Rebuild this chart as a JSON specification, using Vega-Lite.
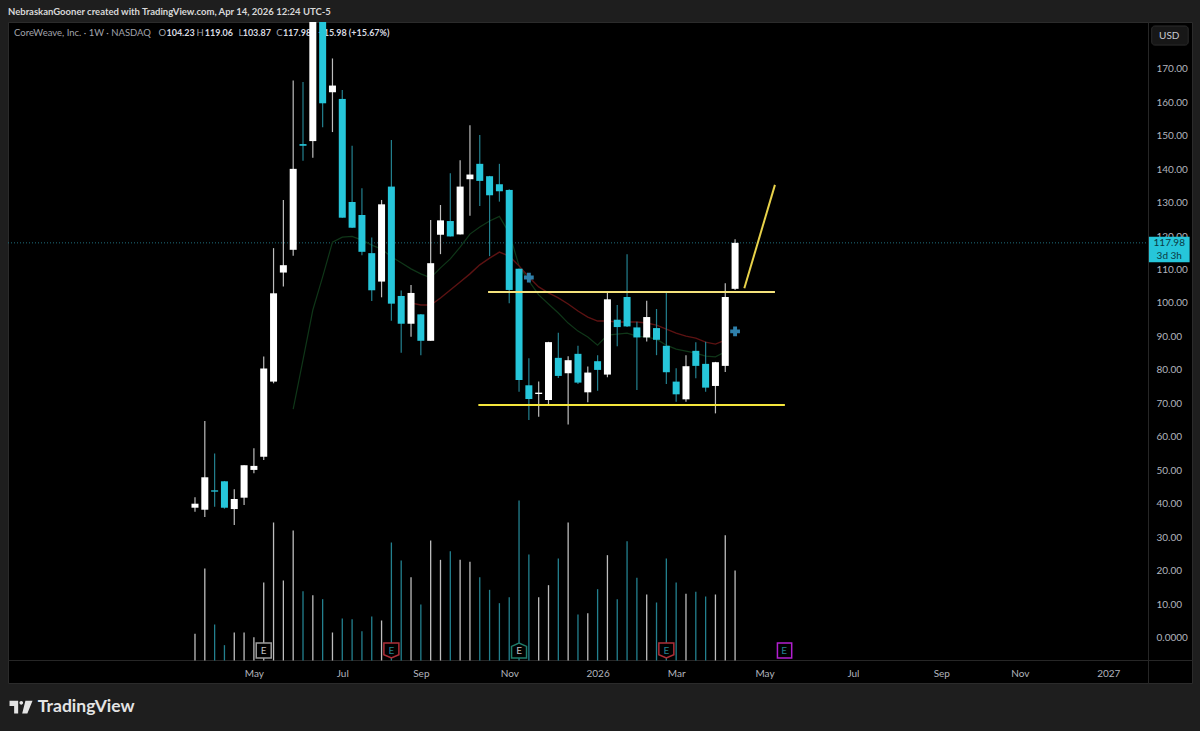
{"$schema":"https://vega.github.io/schema/vega-lite/v6.json","autosize":"none","width":1184,"height":661,"padding":{"left":8,"top":22,"right":8,"bottom":48},"background":"#1e1e1e","config":{"view":{"fill":"#000000","stroke":"#2b2b2b"},"text":{"font":"Lato"},"axis":{"labelFont":"Lato"}},"datasets":{"weeks":[
{"date":"2025-03-24","open":38.8,"high":41.9,"low":37.6,"close":40.0,"dir":"up","vol":40},
{"date":"2025-03-31","open":38.2,"high":64.7,"low":36.0,"close":47.9,"dir":"up","vol":138},
{"date":"2025-04-07","open":44.0,"high":55.0,"low":39.1,"close":43.6,"dir":"down","vol":54},
{"date":"2025-04-14","open":46.7,"high":46.8,"low":38.5,"close":38.8,"dir":"down","vol":23},
{"date":"2025-04-21","open":38.4,"high":44.3,"low":33.6,"close":41.4,"dir":"up","vol":42},
{"date":"2025-04-28","open":41.8,"high":51.5,"low":39.6,"close":51.5,"dir":"up","vol":42},
{"date":"2025-05-05","open":50.1,"high":56.6,"low":49.1,"close":51.3,"dir":"up","vol":35},
{"date":"2025-05-12","open":54.0,"high":84.0,"low":53.1,"close":80.4,"dir":"up","vol":117},
{"date":"2025-05-19","open":76.5,"high":116.4,"low":76.0,"close":102.9,"dir":"up","vol":207},
{"date":"2025-05-26","open":109.1,"high":130.8,"low":104.9,"close":111.3,"dir":"up","vol":120},
{"date":"2025-06-02","open":115.9,"high":166.5,"low":114.1,"close":140.1,"dir":"up","vol":195,"fast":68.3},
{"date":"2025-06-09","open":147.5,"high":166.1,"low":142.5,"close":147.0,"dir":"down","vol":104,"fast":83.0},
{"date":"2025-06-16","open":148.4,"high":187,"low":143.4,"close":185,"dir":"up","vol":98,"fast":97.9},
{"date":"2025-06-23","open":185,"high":187,"low":152.5,"close":159.7,"dir":"down","vol":92,"fast":107.8},
{"date":"2025-06-30","open":163,"high":173.1,"low":151.1,"close":165,"dir":"up","vol":42,"fast":118.2},
{"date":"2025-07-07","open":161,"high":163.7,"low":125.5,"close":125.5,"dir":"down","vol":63,"fast":119.7},
{"date":"2025-07-14","open":130.2,"high":147,"low":122.4,"close":122.5,"dir":"down","vol":62,"fast":119.9},
{"date":"2025-07-21","open":126.3,"high":134.3,"low":114.3,"close":115.3,"dir":"down","vol":44,"fast":118.8},
{"date":"2025-07-28","open":114.9,"high":119.6,"low":100.6,"close":103.8,"dir":"down","vol":66,"fast":117.3},
{"date":"2025-08-04","open":106.4,"high":130.8,"low":101.7,"close":129.5,"dir":"up","vol":60,"fast":116.1},
{"date":"2025-08-11","open":134.8,"high":148.7,"low":94.7,"close":99.8,"dir":"down","vol":177,"fast":113.8},
{"date":"2025-08-18","open":102.1,"high":103.7,"low":85.1,"close":93.8,"dir":"down","vol":150,"fast":112.0},
{"date":"2025-08-25","open":93.8,"high":105.4,"low":89.9,"close":103,"dir":"up","vol":125,"fast":110.2,"slow":100.0},
{"date":"2025-09-01","open":96.6,"high":96.7,"low":84.4,"close":88.7,"dir":"down","vol":84,"fast":108.7,"slow":99.4},
{"date":"2025-09-08","open":88.7,"high":124.8,"low":88.7,"close":111.9,"dir":"up","vol":180,"fast":107.5,"slow":99.4},
{"date":"2025-09-15","open":120.4,"high":129.3,"low":114.6,"close":124.7,"dir":"up","vol":151,"fast":110.5,"slow":101.5},
{"date":"2025-09-22","open":124.5,"high":138.8,"low":119.9,"close":119.9,"dir":"down","vol":164,"fast":113.2,"slow":103.9},
{"date":"2025-09-29","open":120.5,"high":142.7,"low":120.5,"close":134.8,"dir":"up","vol":151,"fast":116.7,"slow":106.3},
{"date":"2025-10-06","open":137,"high":153.1,"low":126.1,"close":138.4,"dir":"up","vol":148,"fast":120.6,"slow":108.7},
{"date":"2025-10-13","open":141.6,"high":150.2,"low":129.0,"close":136.5,"dir":"down","vol":125,"fast":122.7,"slow":111.4},
{"date":"2025-10-20","open":137.9,"high":138,"low":114.0,"close":132.2,"dir":"down","vol":106,"fast":124.5,"slow":113.4},
{"date":"2025-10-27","open":135.5,"high":141.6,"low":130.3,"close":133.4,"dir":"down","vol":86,"fast":125.9,"slow":115.2},
{"date":"2025-11-03","open":133.8,"high":134,"low":99.9,"close":103.9,"dir":"down","vol":95,"fast":120.9,"slow":114.0},
{"date":"2025-11-10","open":110.2,"high":110.3,"low":73.5,"close":77.0,"dir":"down","vol":240,"fast":111.1,"slow":111.1},
{"date":"2025-11-17","open":75.4,"high":83.5,"low":65.0,"close":71.3,"dir":"down","vol":159,"fast":106.6,"slow":107.8},
{"date":"2025-11-24","open":72.8,"high":76.5,"low":66.0,"close":73.2,"dir":"up","vol":95,"fast":102.4,"slow":104.8},
{"date":"2025-12-01","open":71,"high":88.4,"low":69.5,"close":88.3,"dir":"up","vol":113,"fast":99.7,"slow":103.0},
{"date":"2025-12-08","open":83.6,"high":91.1,"low":77.6,"close":78.2,"dir":"down","vol":153,"fast":97.0,"slow":101.5},
{"date":"2025-12-15","open":79,"high":84.1,"low":63.7,"close":82.9,"dir":"up","vol":207,"fast":94.0,"slow":99.7},
{"date":"2025-12-22","open":84.8,"high":87.2,"low":75.8,"close":76.2,"dir":"down","vol":69,"fast":91.6,"slow":97.6},
{"date":"2025-12-29","open":73.3,"high":81,"low":70.3,"close":79.2,"dir":"up","vol":71,"fast":89.8,"slow":95.8},
{"date":"2026-01-05","open":82.6,"high":84.4,"low":73.8,"close":80,"dir":"down","vol":107,"fast":87.4,"slow":94.6},
{"date":"2026-01-12","open":78.6,"high":103.1,"low":77.8,"close":101.1,"dir":"up","vol":158,"fast":90.4,"slow":94.6},
{"date":"2026-01-19","open":95,"high":99.4,"low":87.1,"close":92.8,"dir":"down","vol":92,"fast":90.7,"slow":94.3},
{"date":"2026-01-26","open":101.8,"high":114.6,"low":92.8,"close":93,"dir":"down","vol":179,"fast":91.0,"slow":94.3},
{"date":"2026-02-02","open":92.7,"high":94.4,"low":74.0,"close":89.7,"dir":"down","vol":124,"fast":90.1,"slow":94.3},
{"date":"2026-02-09","open":89.7,"high":100.7,"low":88.5,"close":95.8,"dir":"up","vol":99,"fast":89.8,"slow":94.0},
{"date":"2026-02-16","open":92.5,"high":98.2,"low":84.4,"close":89,"dir":"down","vol":87,"fast":89.2,"slow":93.4},
{"date":"2026-02-23","open":87.2,"high":103.3,"low":75.8,"close":79.3,"dir":"down","vol":153,"fast":87.4,"slow":92.2},
{"date":"2026-03-02","open":76.5,"high":80.5,"low":70.5,"close":72.7,"dir":"down","vol":117,"fast":86.2,"slow":91.0},
{"date":"2026-03-09","open":71.2,"high":84.4,"low":70.5,"close":81.1,"dir":"up","vol":100,"fast":85.6,"slow":90.1},
{"date":"2026-03-16","open":85.7,"high":88.3,"low":77.5,"close":81.2,"dir":"down","vol":103,"fast":85.0,"slow":89.5},
{"date":"2026-03-23","open":81.8,"high":88.4,"low":73.5,"close":74.7,"dir":"down","vol":96,"fast":84.1,"slow":88.3},
{"date":"2026-03-30","open":75.2,"high":82.4,"low":67.0,"close":82.3,"dir":"up","vol":99,"fast":83.9,"slow":87.7},
{"date":"2026-04-06","open":81.2,"high":105.9,"low":79.4,"close":101.8,"dir":"up","vol":188,"fast":85.4,"slow":88.9},
{"date":"2026-04-13","open":104.23,"high":119.06,"low":103.87,"close":117.98,"dir":"up","vol":135}
],
"earnings":[
{"date":"2025-05-12","price":-3.9,"kind":"prior"},
{"date":"2025-08-11","price":-3.9,"kind":"miss"},
{"date":"2025-11-10","price":-3.9,"kind":"beat"},
{"date":"2026-02-23","price":-3.9,"kind":"miss"},
{"date":"2026-05-18","price":-3.9,"kind":"next"}
]},
"data":{"name":"weeks"},
"encoding":{"x":{"field":"date","type":"temporal","title":null,"scale":{"type":"utc","domain":["2024-11-10T17:00:00Z","2027-03-04T17:00:00Z"],"nice":false,"padding":0},"axis":{"orient":"bottom","offset":-23,"grid":false,"ticks":false,"tickSize":0,"domain":true,"domainColor":"#262626","labelColor":"#b2b5be","labelFontSize":10,"labelPadding":8,"labelOverlap":false,"labelFlush":false,"labelBound":false,"labelExpr":"utcmonth(datum.value)==0 ? ''+utcyear(datum.value) : utcFormat(datum.value,'%b')","values":["2025-05-05T00:00:00Z","2025-07-07T00:00:00Z","2025-09-01T00:00:00Z","2025-11-03T00:00:00Z","2026-01-05T00:00:00Z","2026-03-02T00:00:00Z","2026-05-04T00:00:00Z","2026-07-06T00:00:00Z","2026-09-07T00:00:00Z","2026-11-02T00:00:00Z","2027-01-04T00:00:00Z"]}}},
"resolve":{"scale":{"y":"independent"}},
"layer":[
{"layer":[{"mark":{"type":"rule","strokeWidth":1.3},"encoding":{"y":{"field":"vol","type":"quantitative","title":null,"axis":null,"scale":{"domain":[-33.75,957.75],"nice":false,"zero":false}},"y2":{"datum":0},"color":{"field":"dir","type":"nominal","legend":null,"scale":{"domain":["up","down"],"range":["#bdbdbd","#23808f"]}}}}]},
{"layer":[
{"data":{"values":[{"level":117.98,"date":"2024-11-10T17:00:00Z","date2":"2027-02-01T00:00:00Z"}]},"mark":{"type":"rule","color":"#1f6f7d","strokeWidth":1,"strokeDash":[1,2]},"encoding":{"x2":{"field":"date2"},"y":{"field":"level","type":"quantitative","title":null,"scale":{"domain":[-13.6,184],"nice":false,"zero":false},"axis":{"orient":"right","offset":-44,"grid":false,"ticks":false,"tickSize":0,"domain":true,"domainColor":"#262626","labelColor":"#b2b5be","labelFontSize":10,"labelPadding":8,"labelAlign":"left","labelOverlap":false,"labelFlush":false,"labelBound":false,"values":[0,10,20,30,40,50,60,70,80,90,100,110,120,130,140,150,160,170],"labelExpr":"datum.value==0 ? '0.0000' : format(datum.value,'.2f')"}}}}
]},
{"layer":[
{"data":{"values":[{"t":"CoreWeave, Inc. · 1W · NASDAQ","date":"2024-11-15T00:00:00Z","price":180.7},{"t":"O","date":"2025-02-26T00:00:00Z","price":180.7},{"t":"H","date":"2025-03-25T00:00:00Z","price":180.7},{"t":"L","date":"2025-04-24T00:00:00Z","price":180.7},{"t":"C","date":"2025-05-21T00:00:00Z","price":180.7}]},"mark":{"type":"text","align":"left","baseline":"middle","fontSize":9.5,"color":"#a0a3ab"},"encoding":{"y":{"field":"price","type":"quantitative","axis":null,"scale":{"domain":[-13.6,184],"nice":false,"zero":false}},"text":{"field":"t"}}},
{"data":{"values":[{"t":"104.23","date":"2025-03-03T16:00:00Z","price":180.7},{"t":"119.06","date":"2025-03-31T00:00:00Z","price":180.7},{"t":"103.87","date":"2025-04-27T00:00:00Z","price":180.7},{"t":"117.98","date":"2025-05-25T16:00:00Z","price":180.7},{"t":"+15.98 (+15.67%)","date":"2025-06-20T00:00:00Z","price":180.7}]},"mark":{"type":"text","align":"left","baseline":"middle","fontSize":9,"fontWeight":"bold","color":"#d8dae0"},"encoding":{"y":{"field":"price","type":"quantitative","axis":null},"text":{"field":"t"}}},
{"transform":[{"filter":"isValid(datum.fast)"}],"mark":{"type":"line","color":"#0f3618","strokeWidth":1.2,"clip":true},"encoding":{"y":{"field":"fast","type":"quantitative","axis":null}}},
{"transform":[{"filter":"isValid(datum.slow)"}],"mark":{"type":"line","color":"#5c1212","strokeWidth":1.4,"clip":true},"encoding":{"y":{"field":"slow","type":"quantitative","axis":null}}},
{"mark":{"type":"rule","strokeWidth":1.2,"clip":true},"encoding":{"y":{"field":"low","type":"quantitative","axis":null},"y2":{"field":"high"},"color":{"field":"dir","type":"nominal","legend":null}}},
{"mark":{"type":"bar","width":7,"clip":true,"orient":"vertical"},"encoding":{"y":{"field":"open","type":"quantitative","axis":null},"y2":{"field":"close"},"fill":{"field":"dir","type":"nominal","legend":null,"scale":{"domain":["up","down"],"range":["#ffffff","#26c6da"]}}}},
{"data":{"values":[{"date":"2025-10-12T00:00:00Z","date2":"2026-05-18T12:00:00Z","level":69.5}]},"mark":{"type":"rule","color":"#f5e63c","strokeWidth":1.8},"encoding":{"x2":{"field":"date2"},"y":{"field":"level","type":"quantitative","axis":null}}},
{"data":{"values":[{"date":"2025-10-18T22:00:00Z","date2":"2026-05-11T10:00:00Z","level":103.3}]},"mark":{"type":"rule","color":"#f4e27c","strokeWidth":2},"encoding":{"x2":{"field":"date2"},"y":{"field":"level","type":"quantitative","axis":null}}},
{"data":{"values":[{"date":"2026-04-19T14:00:00Z","price":104.4},{"date":"2026-05-11T10:00:00Z","price":135.3}]},"mark":{"type":"line","color":"#e8d24a","strokeWidth":2},"encoding":{"y":{"field":"price","type":"quantitative","axis":null}}},
{"data":{"values":[{"date":"2025-11-17","price":107.6},{"date":"2026-04-13","price":91.5}]},"mark":{"type":"point","shape":"cross","filled":true,"size":95,"color":"#2f80ab","opacity":1},"encoding":{"y":{"field":"price","type":"quantitative","axis":null}}},
{"data":{"name":"earnings"},"mark":{"type":"point","filled":false,"fill":"#000000","fillOpacity":1,"size":225,"strokeWidth":1.5,"opacity":1},"encoding":{"y":{"field":"price","type":"quantitative","axis":null},"stroke":{"field":"kind","type":"nominal","legend":null,"scale":{"domain":["prior","miss","beat","next"],"range":["#9c9c9c","#ad2f38","#1f7d6b","#b21fd0"]}},"shape":{"field":"kind","type":"nominal","legend":null,"scale":{"domain":["prior","miss","beat","next"],"range":["M-1,-1L1,-1L1,1L-1,1Z","M-1,-1L1,-1L1,0.55L0,1L-1,0.55Z","M-1,1L1,1L1,-0.55L0,-1L-1,-0.55Z","M-0.9,-1L1,-1L1,1L-0.9,1Z"]}}}},
{"data":{"name":"earnings"},"transform":[{"calculate":"'E'","as":"t"}],"mark":{"type":"text","align":"center","baseline":"middle","fontSize":10},"encoding":{"y":{"field":"price","type":"quantitative","axis":null},"text":{"field":"t"},"color":{"field":"kind","type":"nominal","legend":null,"scale":{"domain":["prior","miss","beat","next"],"range":["#b5b5b5","#c2363f","#24917c","#c126e0"]}}}},
{"data":{"values":[{"date":"2027-02-02T00:00:00Z","date2":"2027-03-03T00:00:00Z","top":119.8,"bottom":112.2}]},"mark":{"type":"bar","color":"#26c6da","orient":"vertical"},"encoding":{"x2":{"field":"date2"},"y":{"field":"top","type":"quantitative","axis":null},"y2":{"field":"bottom"}}},
{"data":{"values":[{"t":"117.98","date":"2027-02-16T12:00:00Z","price":118.0},{"t":"3d 3h","date":"2027-02-16T12:00:00Z","price":114.1}]},"mark":{"type":"text","align":"center","baseline":"middle","fontSize":10,"color":"#0b3a44"},"encoding":{"y":{"field":"price","type":"quantitative","axis":null},"text":{"field":"t"}}},
{"data":{"values":[{"date":"2027-02-04T00:00:00Z","date2":"2027-03-02T00:00:00Z","top":182.8,"bottom":177.1}]},"mark":{"type":"bar","color":"#171717","stroke":"#2c2c2c","strokeWidth":1,"cornerRadius":3,"orient":"vertical"},"encoding":{"x2":{"field":"date2"},"y":{"field":"top","type":"quantitative","axis":null},"y2":{"field":"bottom"}}},
{"data":{"values":[{"t":"USD","date":"2027-02-16T12:00:00Z","price":179.9}]},"mark":{"type":"text","align":"center","baseline":"middle","fontSize":10,"color":"#c8cad0"},"encoding":{"y":{"field":"price","type":"quantitative","axis":null},"text":{"field":"t"}}},
{"data":{"values":[{"t":"NebraskanGooner created with TradingView.com, Apr 14, 2026 12:24 UTC-5","date":"2024-11-10T17:00:00Z","price":187}]},"mark":{"type":"text","align":"left","baseline":"middle","fontSize":9.5,"fontWeight":"bold","color":"#d8d8d8"},"encoding":{"y":{"field":"price","type":"quantitative","axis":null},"text":{"field":"t"}}},
{"data":{"values":[{"t":"TradingView","date":"2024-12-02T00:00:00Z","price":-20.8}]},"mark":{"type":"text","align":"left","baseline":"middle","fontSize":17.5,"fontWeight":"bold","color":"#e4e4e4"},"encoding":{"y":{"field":"price","type":"quantitative","axis":null},"text":{"field":"t"}}},
{"data":{"values":[{"date":"2024-11-20T00:00:00Z","price":-20.8}]},"mark":{"type":"point","filled":true,"size":529,"opacity":1,"color":"#e4e4e4","shape":"M-1,-0.55H-0.25V0.55H-0.6V-0.1H-1ZM-0.14,-0.37a0.16,0.16 0 1,0 0.32,0a0.16,0.16 0 1,0 -0.32,0ZM0.38,-0.55H1L0.55,0.55H0.1Z"},"encoding":{"y":{"field":"price","type":"quantitative","axis":null}}}
]}
]}
